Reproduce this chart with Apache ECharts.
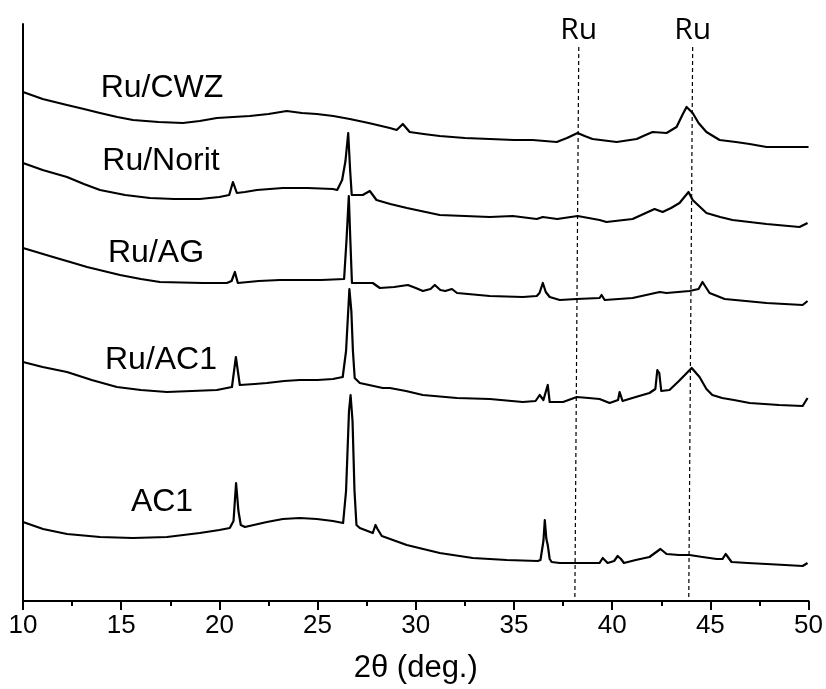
<!DOCTYPE html>
<html>
<head>
<meta charset="utf-8">
<script src="https://cdn.jsdelivr.net/npm/echarts@6/dist/echarts.min.js"></script>
<style>
  html, body { margin: 0; padding: 0; background: #fff; }
  #chart { width: 826px; height: 689px; }
</style>
</head>
<body>
<div id="chart"></div>
<script>
// 2θ (deg.) vs stacked intensity (a.u.)
const ruCWZ = [
  [10.0, 509], [11.0, 502], [12.24, 496], [13.1, 492], [13.92, 488], [14.8, 484], [15.6, 481],
  [16.9, 479], [18.14, 478], [19.0, 480], [19.87, 483], [20.7, 484], [21.55, 485], [22.5, 487],
  [23.43, 490], [24.2, 488], [24.96, 487], [25.8, 485], [26.64, 482], [27.6, 478], [28.68, 473],
  [29.03, 471], [29.34, 477], [29.69, 469], [30.4, 467], [31.22, 465], [32.5, 463], [33.77, 462],
  [35.0, 461], [35.95, 461], [37.18, 459], [37.7, 463], [38.24, 468], [38.6, 465], [39.0, 462],
  [40.23, 459], [41.25, 462], [41.7, 466], [42.06, 469], [42.77, 468], [43.28, 474], [43.6, 487],
  [43.79, 494], [44.1, 488], [44.4, 478], [44.8, 469], [45.47, 461], [46.3, 459], [47.0, 457],
  [47.86, 454], [49.0, 454], [50.0, 454]
];
const ruNorit = [
  [10.0, 438], [11.0, 431], [12.24, 424], [13.1, 417], [13.92, 411], [15.2, 406], [16.46, 403],
  [17.7, 402], [19.0, 402], [20.0, 404], [20.5, 406], [20.69, 419], [20.89, 408], [21.3, 409],
  [21.91, 411], [23.23, 413], [24.5, 413], [25.78, 412], [26.0, 411], [26.25, 421], [26.42, 440],
  [26.56, 468], [26.66, 430], [26.74, 406], [27.3, 406], [27.66, 410], [28.0, 401], [28.7, 397],
  [29.55, 393], [31.22, 386], [33.77, 384], [34.94, 385], [36.16, 382], [36.47, 384], [37.2, 382],
  [38.24, 385], [39.36, 381], [39.71, 379], [41.04, 382], [41.6, 387], [42.16, 392], [42.57, 389],
  [43.0, 393], [43.43, 398], [43.89, 409], [44.1, 401], [44.8, 388], [45.5, 384], [46.13, 381],
  [47.86, 377], [49.54, 374], [49.95, 378]
];
const ruAG = [
  [10.0, 353], [11.53, 344], [12.4, 339], [13.26, 334], [14.94, 326], [16.0, 322], [16.97, 319],
  [19.16, 318], [20.38, 318], [20.62, 320], [20.79, 329], [20.94, 318], [22.0, 320], [23.08, 321],
  [24.09, 321], [25.2, 321], [26.35, 322], [26.47, 360], [26.59, 405], [26.67, 360], [26.75, 318],
  [27.81, 318], [28.17, 313], [28.9, 314], [29.6, 316], [30.0, 313], [30.36, 310], [30.75, 312],
  [30.97, 316], [31.25, 311], [31.5, 310], [31.84, 312], [32.1, 308], [33.77, 305], [35.45, 304],
  [36.16, 305], [36.3, 308], [36.47, 318], [36.62, 309], [36.82, 304], [37.33, 301], [38.2, 302],
  [39.36, 303], [39.46, 306], [39.62, 301], [41.04, 303], [42.42, 309], [42.77, 308], [43.94, 310],
  [44.4, 312], [44.6, 319], [44.96, 308], [45.73, 302], [46.8, 300], [47.86, 298], [49.7, 296],
  [49.95, 300]
];
const ruAC1 = [
  [10.0, 239], [11.0, 234], [12.24, 229], [13.5, 221], [14.78, 214], [16.0, 211], [17.33, 209],
  [18.6, 210], [19.87, 211], [20.64, 214], [20.84, 244], [21.04, 216], [21.8, 217], [22.42, 218],
  [23.3, 220], [24.09, 221], [25.0, 221], [25.78, 222], [26.28, 224], [26.45, 250], [26.62, 312],
  [26.72, 290], [26.8, 250], [26.89, 223], [27.15, 218], [28.32, 213], [28.68, 213], [29.5, 210],
  [30.36, 206], [32.09, 203], [33.77, 202], [35.45, 199], [36.1, 200], [36.31, 206], [36.5, 201],
  [36.6, 203], [36.72, 216], [36.82, 199], [37.5, 199], [38.2, 204], [38.8, 203], [39.36, 202],
  [39.87, 198], [40.3, 201], [40.38, 209], [40.53, 200], [41.2, 204], [41.9, 208], [42.2, 212],
  [42.3, 231], [42.4, 228], [42.5, 210], [42.92, 211], [43.4, 220], [43.6, 224], [44.05, 233],
  [44.45, 224], [44.8, 212], [45.1, 206], [45.6, 203], [46.2, 201], [47.0, 198], [48.5, 196],
  [49.7, 195], [49.95, 203]
];
const ac1 = [
  [10.0, 79], [11.02, 72], [12.24, 67], [13.92, 64], [15.6, 63], [17.33, 64], [19.0, 68],
  [20.0, 71], [20.53, 73], [20.72, 80], [20.85, 118], [20.97, 90], [21.09, 76], [21.3, 74],
  [22.42, 79], [23.23, 82], [24.09, 83], [24.96, 82], [25.78, 80], [26.3, 78], [26.45, 110],
  [26.6, 190], [26.68, 206], [26.78, 180], [26.88, 110], [26.98, 76], [27.15, 73], [27.81, 68],
  [27.95, 76], [28.05, 72], [28.27, 65], [29.54, 56], [31.22, 48], [32.9, 43], [34.63, 41],
  [36.21, 40], [36.35, 41], [36.5, 60], [36.57, 81], [36.65, 62], [36.72, 56], [36.82, 42],
  [36.92, 39], [37.33, 38], [38.19, 38], [39.36, 38], [39.52, 43], [39.77, 38], [40.1, 40],
  [40.28, 45], [40.45, 42], [40.6, 38], [41.2, 41], [41.9, 44], [42.46, 52], [42.77, 47],
  [43.4, 46], [43.94, 46], [44.6, 44], [45.32, 42], [45.62, 42], [45.78, 47], [46.08, 39],
  [46.9, 38], [47.86, 37], [48.8, 36], [49.7, 35], [49.95, 38]
];

const seriesNames = ['Ru/CWZ', 'Ru/Norit', 'Ru/AG', 'Ru/AC1', 'AC1'];
const seriesData = [ruCWZ, ruNorit, ruAG, ruAC1, ac1];

// Ru reflections: dashed guides [top 2θ, bottom 2θ]
const ruRefs = [[38.3, 38.1], [44.1, 43.9]];
const ruTop = 554;

const xTicks = [10, 15, 20, 25, 30, 35, 40, 45, 50];

const labelFont = '"Liberation Sans", Arial, sans-serif';
const chart = echarts.init(document.getElementById('chart'));

const lines = seriesData.map((d, i) => ({
  name: seriesNames[i],
  type: 'line',
  data: d,
  showSymbol: false,
  silent: true,
  lineStyle: { color: '#000', width: 2.2, join: 'round' },
  z: 3
}));

lines.push({
  type: 'line',
  data: [],
  silent: true,
  markLine: {
    silent: true,
    symbol: ['none', 'none'],
    lineStyle: { color: '#000', type: [4, 3], width: 1.2 },
    label: {
      show: true,
      position: 'start',
      formatter: 'Ru',
      color: '#000',
      fontSize: 30,
      fontFamily: '"Open Sans", sans-serif',
      distance: 2
    },
    data: ruRefs.map(r => [{ coord: [r[0], ruTop] }, { coord: [r[1], 0] }])
  }
});

const seriesLabel = (text, x, y) => ({
  type: 'text', x, y,
  style: { text, align: 'center', verticalAlign: 'middle', fill: '#000', fontSize: 32, fontFamily: labelFont }
});

chart.setOption({
  animation: false,
  grid: { left: 23, right: 17, top: 24, bottom: 88 },
  xAxis: {
    type: 'value',
    min: xTicks[0],
    max: xTicks[xTicks.length - 1],
    interval: 5,
    name: '2θ (deg.)',
    nameLocation: 'middle',
    nameGap: 52,
    nameTextStyle: { color: '#000', fontSize: 31, fontFamily: labelFont },
    axisLine: { lineStyle: { color: '#000', width: 2 } },
    axisTick: { show: true, inside: false, length: 9, lineStyle: { color: '#000', width: 2 } },
    minorTick: { show: true, splitNumber: 2, length: 5, lineStyle: { color: '#000', width: 2 } },
    axisLabel: { color: '#000', fontSize: 26, margin: 12, fontFamily: labelFont },
    splitLine: { show: false }
  },
  yAxis: {
    type: 'value',
    min: 0,
    max: 577,
    axisLine: { show: true, lineStyle: { color: '#000', width: 2 } },
    axisTick: { show: false },
    axisLabel: { show: false },
    splitLine: { show: false }
  },
  graphic: [
    seriesLabel('Ru/CWZ', 162, 88),
    seriesLabel('Ru/Norit', 161, 161),
    seriesLabel('Ru/AG', 156, 253),
    seriesLabel('Ru/AC1', 161, 360),
    seriesLabel('AC1', 162, 502)
  ],
  series: lines
});
</script>
</body>
</html>
